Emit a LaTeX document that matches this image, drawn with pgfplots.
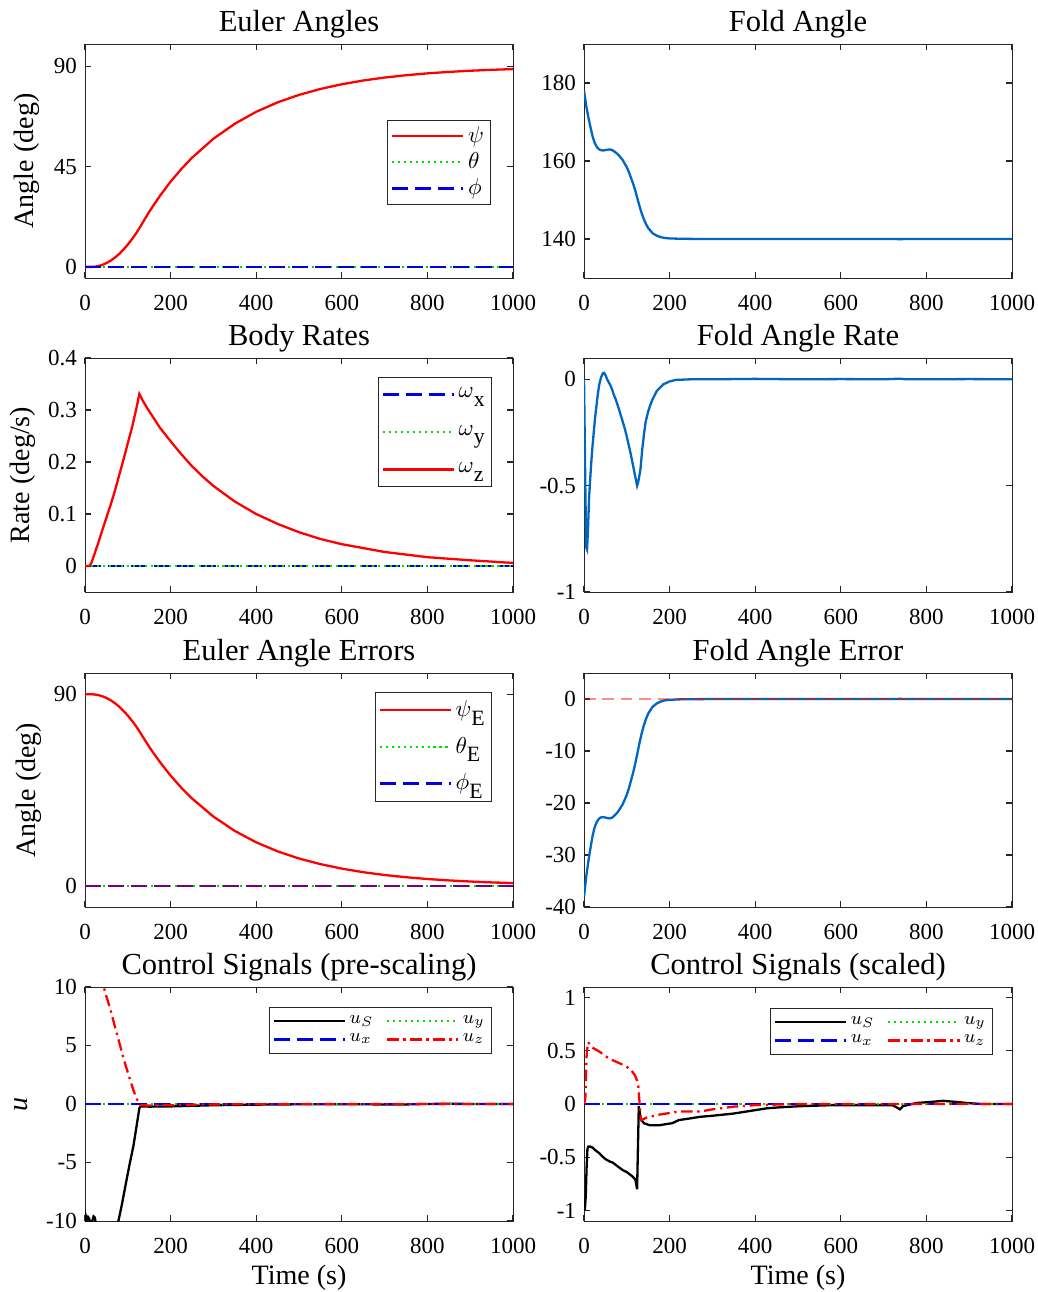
\documentclass[border=0pt]{standalone}
\usepackage{pgfplots}
\pgfplotsset{compat=1.18}
\usepackage{fontspec}
\setmainfont{Liberation Serif}
\definecolor{mred}{rgb}{1,0,0}
\definecolor{mgreen}{rgb}{0,0.88,0}
\definecolor{mblue}{rgb}{0,0,0.9}
\definecolor{mlblue}{rgb}{0,0.40,0.75}
\definecolor{axgray}{rgb}{0.15,0.15,0.15}
\newcommand{\sub}[2]{#1\raisebox{-3.8pt}{\fontsize{9.5}{10}\selectfont #2}}
\pgfplotsset{
  every axis/.append style={
    scale only axis, width=186.18pt, height=101.79pt, anchor=north west,
    xmin=0, xmax=1000, xtick={0,200,400,600,800,1000},
    tick align=inside, major tick length=2.6pt,
    axis line style={axgray}, tick style={axgray, line width=0.5pt},
    tick label style={font=\fontsize{10}{12}\selectfont},
    xticklabel style={yshift=-4pt},
    /pgf/number format/assume math mode=true,
    /pgf/number format/1000 sep={},
    title style={font=\fontsize{13.3}{15}\selectfont, at={(axis description cs:0.5,0.996)}, anchor=base},
    label style={font=\fontsize{12.2}{14}\selectfont},
    xlabel style={at={(axis description cs:0.5,-0.269)}, anchor=base},
    legend style={font=\fontsize{10}{12}\selectfont, draw=axgray, inner xsep=1.5pt, inner ysep=1pt, nodes={inner sep=1.5pt}},
    legend cell align=left,
    legend image code/.code={\draw[#1] (0pt,0pt) -- (31pt,0pt);},
  },
  sol/.style={line width=1pt},
  dotg/.style={mgreen, line width=1pt, dash pattern=on 0.9pt off 1.7pt},
  dashb/.style={mblue, line width=1pt, dash pattern=on 7pt off 3pt},
  dashdot/.style={line width=1pt, dash pattern=on 5pt off 2pt on 1pt off 2pt},
}
\begin{document}
\begin{tikzpicture}
\useasboundingbox (0pt,0pt) rectangle (451.1pt,-562.0pt);

% ---------- Euler Angles
\begin{axis}[at={(36.975pt,-19.14pt)}, title={Euler Angles}, ylabel={Angle (deg)},
  ylabel style={at={(axis description cs:-0.135,0.5)}, anchor=center},
  ymin=-5, ymax=100, ytick={0,45,90},
  legend style={at={(0.949,0.675)}, anchor=north east}]
\addplot[mred, sol] coordinates {(0,0)(15,0)(20,0.04)(30,0.31)(40,0.86)(50,1.69)(60,2.8)(70,4.2)(80,5.8)(90,7.8)(100,10.0)(110,12.5)(120,15.2)(130,18.3)(140,21.55)(150,24.67)(160,27.63)(175,31.84)(200,38.23)(225,43.91)(250,48.96)(300,57.48)(350,64.23)(400,69.58)(450,73.82)(500,77.17)(550,79.83)(600,81.94)(650,83.62)(700,84.94)(750,85.99)(800,86.82)(850,87.48)(900,88.0)(950,88.42)(1000,88.75)};
\addlegendentry{$\psi$}
\addplot[dotg] coordinates {(0,0)(1000,0)};
\addlegendentry{$\theta$}
\addplot[dashb] coordinates {(0,0)(1000,0)};
\addlegendentry{$\phi$}
\end{axis}

% ---------- Fold Angle
\begin{axis}[at={(254.04pt,-19.14pt)}, title={Fold Angle},
  ymin=130, ymax=190, ytick={140,160,180}]
\addplot[mlblue, sol] coordinates {(0,178.0)(3,175.8)(6,173.6)(10,171.3)(15,168.7)(20,166.3)(25,164.6)(30,163.6)(35,163.0)(40,162.75)(45,162.7)(50,162.8)(55,162.9)(60,162.95)(65,162.85)(70,162.5)(75,162.1)(80,161.6)(90,160.3)(100,158.4)(105,157.1)(110,155.6)(115,154.1)(120,152.3)(125,150.3)(130,148.3)(135,146.5)(140,145.0)(145,143.8)(150,142.8)(160,141.5)(170,140.85)(180,140.45)(190,140.25)(200,140.15)(225,140.06)(250,140.03)(300,140)(400,140)(500,140)(600,140)(700,140)(740,139.97)(760,140)(800,140)(900,140)(1000,140)};
\end{axis}

% ---------- Body Rates
\begin{axis}[at={(36.975pt,-155.73pt)}, title={Body Rates}, ylabel={Rate (deg/s)},
  ylabel style={at={(axis description cs:-0.145,0.5)}, anchor=center},
  ymin=-0.05, ymax=0.4, ytick={0,0.1,0.2,0.3,0.4},
  yticklabel style={/pgf/number format/fixed},
  legend style={at={(0.951,0.919)}, anchor=north east, row sep=7.5pt, inner ysep=3pt}]
\addplot[dashb] coordinates {(0,0)(1000,0)};
\addlegendentry{\sub{$\omega$}{x}}
\addplot[dotg] coordinates {(0,0)(1000,0)};
\addlegendentry{\sub{$\omega$}{y}}
\addplot[mred, sol] coordinates {(0,0)(10,0)(15,0.006)(20,0.018)(30,0.042)(40,0.068)(50,0.093)(60,0.118)(70,0.145)(80,0.175)(90,0.205)(100,0.236)(110,0.267)(120,0.303)(127,0.331)(135,0.318)(145,0.304)(160,0.285)(175,0.266)(200,0.240)(225,0.215)(250,0.192)(275,0.172)(300,0.154)(350,0.124)(400,0.100)(450,0.081)(500,0.065)(550,0.052)(600,0.042)(700,0.027)(800,0.017)(900,0.011)(1000,0.006)};
\addlegendentry{\sub{$\omega$}{z}}
\end{axis}

% ---------- Fold Angle Rate
\begin{axis}[at={(254.04pt,-155.73pt)}, title={Fold Angle Rate},
  ymin=-1, ymax=0.1, ytick={-1,-0.5,0}]
\addplot[mlblue, sol] coordinates {(0,0)(3,-0.5)(5,-0.79)(7,-0.8)(9,-0.72)(12,-0.55)(15,-0.45)(18,-0.36)(20,-0.31)(24,-0.22)(27,-0.16)(31,-0.09)(35,-0.03)(40,0.01)(44,0.028)(47,0.03)(50,0.02)(54,0.0)(58,-0.015)(62,-0.03)(66,-0.05)(70,-0.075)(74,-0.094)(80,-0.13)(89,-0.19)(95,-0.23)(100,-0.27)(109,-0.35)(115,-0.41)(120,-0.46)(124,-0.50)(127,-0.48)(132,-0.42)(136,-0.33)(140,-0.26)(144,-0.20)(150,-0.15)(155,-0.12)(160,-0.094)(170,-0.055)(185,-0.024)(200,-0.01)(214,-0.003)(250,0)(300,0)(400,0.002)(500,0)(600,0.001)(700,0)(740,0.003)(750,0)(800,0)(900,0.001)(1000,0)};
\end{axis}

% ---------- Euler Angle Errors
\begin{axis}[at={(36.975pt,-292.755pt)}, title={Euler Angle Errors}, ylabel={Angle (deg)},
  ylabel style={at={(axis description cs:-0.132,0.5)}, anchor=center},
  ymin=-10, ymax=100, ytick={0,90},
  legend style={at={(0.951,0.919)}, anchor=north east, row sep=4.5pt, inner ysep=2pt}]
\addplot[mred, sol] coordinates {(0,90)(15,90)(20,89.96)(30,89.69)(40,89.14)(50,88.31)(60,87.2)(70,85.8)(80,84.2)(90,82.2)(100,80.0)(110,77.5)(120,74.8)(130,71.7)(140,68.45)(150,65.33)(160,62.37)(175,58.16)(200,51.77)(225,46.09)(250,41.04)(300,32.52)(350,25.77)(400,20.42)(450,16.18)(500,12.83)(550,10.17)(600,8.06)(650,6.38)(700,5.06)(750,4.01)(800,3.18)(850,2.52)(900,2.0)(950,1.58)(1000,1.25)};
\addlegendentry{\sub{$\psi$}{E}}
\addplot[dotg] coordinates {(0,0)(1000,0)};
\addlegendentry{\sub{$\theta$}{E}}
\addplot[dashb] coordinates {(0,0)(1000,0)};
\addlegendentry{\sub{$\phi$}{E}}
\addplot[mred, opacity=0.45, line width=1pt, dash pattern=on 7pt off 3pt, forget plot] coordinates {(0,0)(1000,0)};
\end{axis}

% ---------- Fold Angle Error
\begin{axis}[at={(254.04pt,-292.755pt)}, title={Fold Angle Error},
  ymin=-40, ymax=5, ytick={-40,-30,-20,-10,0}]
\addplot[mlblue, sol] coordinates {(0,-38.0)(3,-35.8)(6,-33.6)(10,-31.3)(15,-28.7)(20,-26.3)(25,-24.6)(30,-23.6)(35,-23.0)(40,-22.75)(45,-22.7)(50,-22.8)(55,-22.9)(60,-22.95)(65,-22.85)(70,-22.5)(75,-22.1)(80,-21.6)(90,-20.3)(100,-18.4)(105,-17.1)(110,-15.6)(115,-14.1)(120,-12.3)(125,-10.3)(130,-8.3)(135,-6.5)(140,-5.0)(145,-3.8)(150,-2.8)(160,-1.5)(170,-0.85)(180,-0.45)(190,-0.25)(200,-0.15)(225,-0.06)(250,-0.03)(300,0)(400,0)(500,0)(600,0)(700,0)(740,0.03)(760,0)(800,0)(900,0)(1000,0)};
\addplot[mred, opacity=0.45, line width=0.8pt, dash pattern=on 5pt off 3pt] coordinates {(0,0)(1000,0)};
\end{axis}

% ---------- Control Signals (pre-scaling)
\begin{axis}[at={(36.975pt,-429.345pt)}, title={Control Signals (pre-scaling)}, ylabel={\textit{u}}, xlabel={Time (s)},
  ylabel style={at={(axis description cs:-0.148,0.5)}, anchor=center},
  ymin=-10, ymax=10, ytick={-10,-5,0,5,10},
  legend columns=2,
  legend style={at={(0.951,0.915)}, anchor=north east, font=\fontsize{8.5}{10}\selectfont, inner ysep=2pt, /tikz/every even column/.append style={column sep=4pt}}]
\addplot[black, sol] coordinates {(0,-10.4)(2,-9.6)(4,-9.9)(6,-10.6)(8,-9.7)(10,-9.8)(13,-10.5)(20,-9.6)(23,-9.7)(26,-10.4)(30,-12)(40,-14)(55,-14)(70,-12)(78,-10)(85,-8.8)(97,-6.5)(105,-5.0)(113,-3.6)(120,-2.0)(127,-0.35)(130,-0.2)(150,-0.22)(200,-0.2)(250,-0.15)(300,-0.1)(400,-0.05)(500,-0.02)(600,-0.01)(740,-0.04)(800,0.01)(850,0.02)(900,0.01)(1000,0)};
\addlegendentry{$u_S$}
\addplot[dotg] coordinates {(0,0)(1000,0)};
\addlegendentry{$u_y$}
\addplot[dashb] coordinates {(0,0)(1000,0)};
\addlegendentry{$u_x$}
\addplot[mred, dashdot] coordinates {(5,17)(10,16)(20,14.5)(30,12.5)(43,10.1)(50,9.2)(60,8.0)(70,6.6)(82,5.0)(90,3.9)(100,2.7)(113,1.2)(120,0.5)(127,0)(130,-0.1)(150,-0.12)(200,-0.1)(250,-0.06)(300,-0.03)(400,-0.01)(500,0)(1000,0)};
\addlegendentry{$u_z$}
\end{axis}

% ---------- Control Signals (scaled)
\begin{axis}[at={(254.04pt,-429.345pt)}, title={Control Signals (scaled)}, xlabel={Time (s)},
  ymin=-1.1, ymax=1.1, ytick={-1,-0.5,0,0.5,1},
  legend columns=2,
  legend style={at={(0.956,0.91)}, anchor=north east, font=\fontsize{8.5}{10}\selectfont, inner ysep=2pt, /tikz/every even column/.append style={column sep=4pt}}]
\addplot[black, sol] coordinates {(0,-1.0)(2,-0.99)(4,-0.87)(6,-0.6)(8,-0.42)(10,-0.40)(15,-0.40)(20,-0.41)(25,-0.43)(35,-0.46)(45,-0.50)(51,-0.52)(60,-0.54)(67,-0.55)(80,-0.59)(90,-0.62)(100,-0.64)(113,-0.68)(120,-0.71)(124,-0.80)(126,-0.4)(128,-0.02)(131,-0.10)(134,-0.15)(140,-0.18)(154,-0.20)(175,-0.20)(190,-0.19)(206,-0.18)(222,-0.15)(240,-0.14)(271,-0.12)(300,-0.11)(348,-0.09)(380,-0.07)(427,-0.04)(460,-0.03)(505,-0.02)(582,-0.01)(658,-0.01)(720,-0.01)(730,-0.03)(738,-0.05)(745,-0.02)(777,0.01)(810,0.02)(839,0.03)(870,0.02)(894,0.01)(930,0.0)(1000,0.0)};
\addlegendentry{$u_S$}
\addplot[dotg] coordinates {(0,0)(1000,0)};
\addlegendentry{$u_y$}
\addplot[dashb] coordinates {(0,0)(1000,0)};
\addlegendentry{$u_x$}
\addplot[mred, dashdot] coordinates {(0,0)(3,0.05)(6,0.45)(9,0.58)(12,0.57)(20,0.53)(37,0.49)(50,0.45)(68,0.41)(85,0.38)(100,0.35)(110,0.32)(119,0.27)(124,0.22)(127,0.16)(129,0.05)(131,-0.05)(133,-0.15)(140,-0.14)(144,-0.13)(175,-0.10)(222,-0.07)(271,-0.07)(300,-0.05)(348,-0.025)(400,-0.01)(500,0)(1000,0)};
\addlegendentry{$u_z$}
\end{axis}
\end{tikzpicture}
\end{document}
